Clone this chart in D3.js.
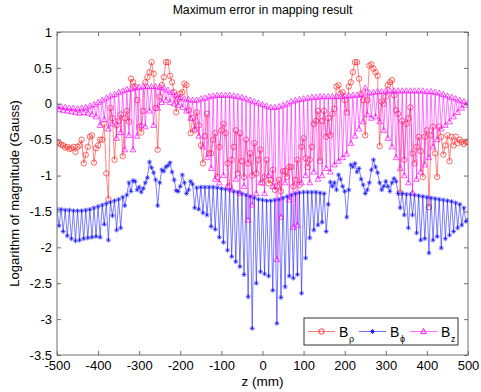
<!DOCTYPE html>
<html>
<head>
<meta charset="utf-8">
<script src="https://cdn.jsdelivr.net/npm/d3@7"></script>
<style>
  body { margin: 0; background: #fff; }
  text { font-family: "Liberation Sans", Arial, sans-serif; fill: #000; }
</style>
</head>
<body>
<svg id="chart" width="481" height="392"></svg>
<script>
// Sample positions along z (mm): first sample and spacing
const zStart = -500;
const zStep = 5;

// log10 of maximum error magnitude, one value per z sample
const bRho = [
  -0.53,-0.55,-0.57,-0.58,-0.61,-0.60,-0.63,-0.62,-0.60,-0.67,
  -0.60,-0.58,-0.50,-0.83,-0.71,-0.60,-0.46,-0.44,-0.82,-0.62,
  -0.58,-0.50,-0.50,-0.28,-0.97,-1.33,-0.06,-0.20,-0.78,-0.30,
  -0.24,-0.15,-0.73,-0.20,-0.10,-0.25,0.35,0.30,0.24,0.05,
  -0.32,-0.40,-0.10,0.30,0.37,0.44,0.58,0.42,-0.06,-0.64,
  0.10,0.26,0.37,0.58,0.58,0.39,0.30,0.16,-0.12,0.07,
  0.14,0.16,0.28,0.26,-0.09,-0.41,-0.20,-0.37,-0.12,-0.30,
  -0.58,-0.83,-0.45,-0.14,-0.69,-0.69,-0.50,-0.41,-1.02,-0.60,
  -0.37,-0.28,-0.41,-0.83,-1.15,-0.78,-0.60,-0.37,-0.97,-0.41,
  -0.80,-1.02,-0.50,-0.83,-0.69,-1.00,-0.55,-0.97,-0.78,-0.64,
  -1.10,-1.02,-0.78,-1.11,-1.06,-0.92,-1.20,-1.15,-1.06,-1.22,
  -0.94,-0.94,-1.02,-0.88,-0.88,-1.15,-1.06,-0.78,-1.13,-0.60,
  -0.48,-0.76,-0.88,-0.78,-0.60,-0.28,-0.24,-0.10,-0.80,-0.24,
  -0.10,-0.46,-0.20,-0.44,-0.14,-0.07,0.24,0.26,0.14,0.16,
  0.05,-0.12,0.24,0.30,0.44,0.58,0.58,0.35,0.14,0.05,
  -0.44,0.05,0.53,0.55,0.49,0.44,0.39,-0.59,0.03,0.00,
  0.10,0.26,0.30,0.33,0.12,-0.09,-0.14,-1.24,-0.24,-0.78,
  -0.28,-0.20,-0.05,-0.69,-0.83,-0.60,-0.46,-0.66,-1.02,-0.46,
  -0.37,-1.44,-0.44,-0.32,-0.69,-1.02,-0.32,-0.46,-0.71,-0.58,
  -0.44,-0.80,-0.46,-0.58,-0.46,-0.55,-0.50,-0.53,-0.56,-0.53,
  -0.53
];

const bPhi = [
  -1.47,-1.70,-1.47,-1.78,-1.48,-1.84,-1.48,-1.88,-1.49,-1.91,
  -1.49,-1.90,-1.49,-1.88,-1.48,-1.87,-1.47,-1.86,-1.45,-1.85,
  -1.43,-1.86,-1.41,-1.68,-1.39,-1.90,-1.37,-1.56,-1.35,-1.76,
  -1.33,-1.73,-1.30,-1.42,-1.27,-1.10,-1.22,-1.07,-1.08,-1.20,
  -1.16,-1.23,-1.18,-1.10,-1.03,-0.81,-0.89,-0.96,-1.06,-1.42,
  -1.10,-0.92,-0.94,-0.88,-0.86,-0.82,-0.95,-1.06,-1.21,-1.22,
  -1.15,-0.99,-1.10,-1.25,-1.20,-1.08,-1.12,-1.45,-1.17,-1.47,
  -1.16,-1.52,-1.16,-1.55,-1.16,-1.71,-1.16,-1.75,-1.17,-1.86,
  -1.18,-1.93,-1.19,-2.04,-1.20,-2.13,-1.22,-2.20,-1.23,-2.27,
  -1.25,-2.38,-1.27,-2.69,-1.29,-3.13,-1.31,-2.50,-1.33,-2.34,
  -1.34,-2.37,-1.35,-2.40,-1.35,-2.60,-1.34,-3.06,-1.33,-2.70,
  -1.31,-2.55,-1.29,-2.40,-1.27,-2.43,-1.25,-2.38,-1.24,-2.64,
  -1.23,-2.15,-1.23,-1.87,-1.23,-1.76,-1.23,-1.69,-1.24,-1.65,
  -1.25,-1.78,-1.40,-1.09,-1.15,-1.10,-1.20,-0.99,-1.05,-1.15,
  -1.22,-1.58,-1.20,-0.85,-0.88,-0.83,-0.95,-0.90,-1.05,-1.13,
  -1.25,-1.20,-1.10,-0.92,-0.78,-0.88,-0.96,-1.10,-1.20,-1.15,
  -1.08,-1.15,-1.22,-1.10,-1.04,-1.08,-1.25,-1.45,-1.25,-1.55,
  -1.26,-1.73,-1.26,-1.55,-1.27,-1.80,-1.28,-1.90,-1.29,-1.88,
  -1.30,-2.08,-1.31,-1.90,-1.32,-1.85,-1.33,-2.01,-1.34,-1.88,
  -1.35,-1.83,-1.36,-1.78,-1.38,-1.73,-1.40,-1.69,-1.45,-1.64,
  -1.62
];

const bZ = [
  -0.03,-0.08,-0.04,-0.09,-0.05,-0.10,-0.06,-0.11,-0.06,-0.12,
  -0.07,-0.13,-0.06,-0.12,-0.05,-0.13,-0.03,-0.15,-0.01,-0.18,
  0.02,-0.30,0.05,-0.22,0.08,-0.35,0.11,-0.28,0.13,-0.48,
  0.16,-0.40,0.18,-0.64,0.20,-0.44,0.21,-0.64,0.22,-0.45,
  0.23,-0.30,0.24,-0.32,0.24,-0.10,0.24,-0.30,0.24,-0.06,
  0.23,0.02,0.22,0.05,0.19,0.02,0.16,0.00,0.12,-0.02,
  0.09,-0.05,0.07,-0.10,0.06,-0.20,0.05,-0.35,0.05,-0.45,
  0.07,-0.60,0.08,-0.75,0.10,-0.90,0.11,-1.05,0.12,-1.10,
  0.12,-1.00,0.12,-1.15,0.12,-1.20,0.11,-1.05,0.10,-1.25,
  0.09,-1.15,0.07,-1.62,0.05,-1.41,0.03,-1.25,0.01,-1.10,
  -0.01,-1.25,-0.03,-1.00,-0.05,-1.15,-0.05,-2.17,-0.04,-1.58,
  -0.02,-1.10,0.00,-1.34,0.03,-1.72,0.05,-1.69,0.06,-1.10,
  0.07,-1.00,0.08,-1.10,0.09,-0.95,0.09,-1.05,0.10,-1.00,
  0.10,-0.90,0.10,-0.95,0.10,-0.85,0.10,-0.80,0.10,-0.75,
  0.11,-0.70,0.11,-0.55,0.12,-0.45,0.12,-0.35,0.13,-0.25,
  0.22,-0.15,0.15,-0.20,0.16,-0.18,0.17,-0.25,0.17,-0.37,
  0.18,-0.48,0.18,-0.60,0.18,-0.75,0.18,-0.90,0.18,-1.00,
  0.18,-1.10,0.18,-1.24,0.18,-1.05,0.18,-0.95,0.18,-0.85,
  0.17,-0.75,0.17,-0.60,0.16,-0.50,0.15,-0.35,0.13,-0.30,
  0.11,-0.25,0.09,-0.18,0.07,-0.12,0.05,-0.06,0.03,-0.02,
  0.01
];

const xTicks = [-500, -400, -300, -200, -100, 0, 100, 200, 300, 400, 500];
const yTicks = [1, 0.5, 0, -0.5, -1, -1.5, -2, -2.5, -3, -3.5];

const chartTitle = "Maximum error in mapping result";
const xTitle = "z (mm)";
const yTitle = "Logarithm of magnitude (Gauss)";

// ---- layout ----
const plot = { left: 57, right: 468, top: 32, bottom: 355 };

const svg = d3.select("#chart");
const x = d3.scaleLinear().domain([-500, 500]).range([plot.left, plot.right]);
const y = d3.scaleLinear().domain([-3.5, 1]).range([plot.bottom, plot.top]);
const zAt = i => zStart + i * zStep;

svg.append("defs").append("clipPath").attr("id", "plotClip")
  .append("rect")
  .attr("x", plot.left).attr("y", plot.top)
  .attr("width", plot.right - plot.left).attr("height", plot.bottom - plot.top);

// marker shapes
const markerPaths = {
  circle: "M2.7,0A2.7,2.7 0 1,1 -2.7,0A2.7,2.7 0 1,1 2.7,0Z",
  star: "M-2.4,0H2.4M0,-2.4V2.4M-1.7,-1.7L1.7,1.7M-1.7,1.7L1.7,-1.7",
  triangle: "M0,-3.1L2.8,2.1H-2.8Z"
};

const series = [
  { key: "rho", values: bRho, color: "#ff2020", marker: "circle", sub: "\u03C1" },
  { key: "phi", values: bPhi, color: "#1010ff", marker: "star", sub: "\u03D5" },
  { key: "z",   values: bZ,   color: "#ff00ff", marker: "triangle", sub: "z" }
];

const lineGen = d3.line().x((d, i) => x(zAt(i))).y(d => y(d));

const plotG = svg.append("g").attr("clip-path", "url(#plotClip)");

series.forEach(s => {
  const g = plotG.append("g").attr("class", "series-" + s.key);
  g.append("path")
    .datum(s.values)
    .attr("d", lineGen)
    .attr("fill", "none")
    .attr("stroke", s.color)
    .attr("stroke-opacity", 0.6)
    .attr("stroke-width", 0.9);
  g.selectAll("path.mk")
    .data(s.values)
    .join("path")
    .attr("class", "mk")
    .attr("transform", (d, i) => `translate(${x(zAt(i))},${y(d)})`)
    .attr("d", markerPaths[s.marker])
    .attr("fill", "none")
    .attr("stroke", s.color)
    .attr("stroke-opacity", 0.85)
    .attr("stroke-width", 0.8);
});

// ---- axes (ticks pointing inward, box all round) ----
const fmt = d => String(d);
const axisColor = "#6e6e6e";

function styleAxis(g) {
  g.select(".domain").remove();
  g.selectAll(".tick line").attr("stroke", axisColor);
  g.selectAll(".tick text").style("font-size", "13px").attr("fill", "#000");
}

svg.append("g").attr("transform", `translate(0,${plot.bottom})`)
  .call(d3.axisBottom(x).tickValues(xTicks).tickFormat(fmt).tickSize(-4).tickPadding(6))
  .call(styleAxis);
svg.append("g").attr("transform", `translate(0,${plot.top})`)
  .call(d3.axisTop(x).tickValues(xTicks).tickFormat("").tickSize(-4))
  .call(styleAxis);
svg.append("g").attr("transform", `translate(${plot.left},0)`)
  .call(d3.axisLeft(y).tickValues(yTicks).tickFormat(fmt).tickSize(-4).tickPadding(5))
  .call(styleAxis);
svg.append("g").attr("transform", `translate(${plot.right},0)`)
  .call(d3.axisRight(y).tickValues(yTicks).tickFormat("").tickSize(-4))
  .call(styleAxis);

svg.append("rect")
  .attr("x", plot.left).attr("y", plot.top)
  .attr("width", plot.right - plot.left).attr("height", plot.bottom - plot.top)
  .attr("fill", "none").attr("stroke", axisColor).attr("stroke-width", 1);

// ---- titles ----
const midX = (plot.left + plot.right) / 2;
svg.append("text").attr("x", midX).attr("y", 14)
  .attr("text-anchor", "middle").style("font-size", "12.3px").text(chartTitle);
svg.append("text").attr("x", midX).attr("y", 386)
  .attr("text-anchor", "middle").style("font-size", "13.5px").text(xTitle);
svg.append("text")
  .attr("transform", `translate(19,${(plot.top + plot.bottom) / 2}) rotate(-90)`)
  .attr("text-anchor", "middle").style("font-size", "13px").text(yTitle);

// ---- legend ----
const legend = svg.append("g").attr("transform", "translate(304,318)");
legend.append("rect").attr("width", 154).attr("height", 27)
  .attr("fill", "#fff").attr("stroke", "#333").attr("stroke-width", 1);

series.forEach((s, k) => {
  const ox = 4 + k * 51;
  const cy = 13.5;
  legend.append("line")
    .attr("x1", ox).attr("x2", ox + 27).attr("y1", cy).attr("y2", cy)
    .attr("stroke", s.color).attr("stroke-opacity", 0.6).attr("stroke-width", 1);
  legend.append("path")
    .attr("transform", `translate(${ox + 13.5},${cy})`)
    .attr("d", markerPaths[s.marker])
    .attr("fill", "none").attr("stroke", s.color).attr("stroke-width", 0.9);
  legend.append("text").attr("x", ox + 31).attr("y", cy + 5)
    .style("font-size", "14px").text("B");
  legend.append("text").attr("x", ox + 41).attr("y", cy + 10)
    .style("font-size", "9px").text(s.sub);
});
</script>
</body>
</html>
